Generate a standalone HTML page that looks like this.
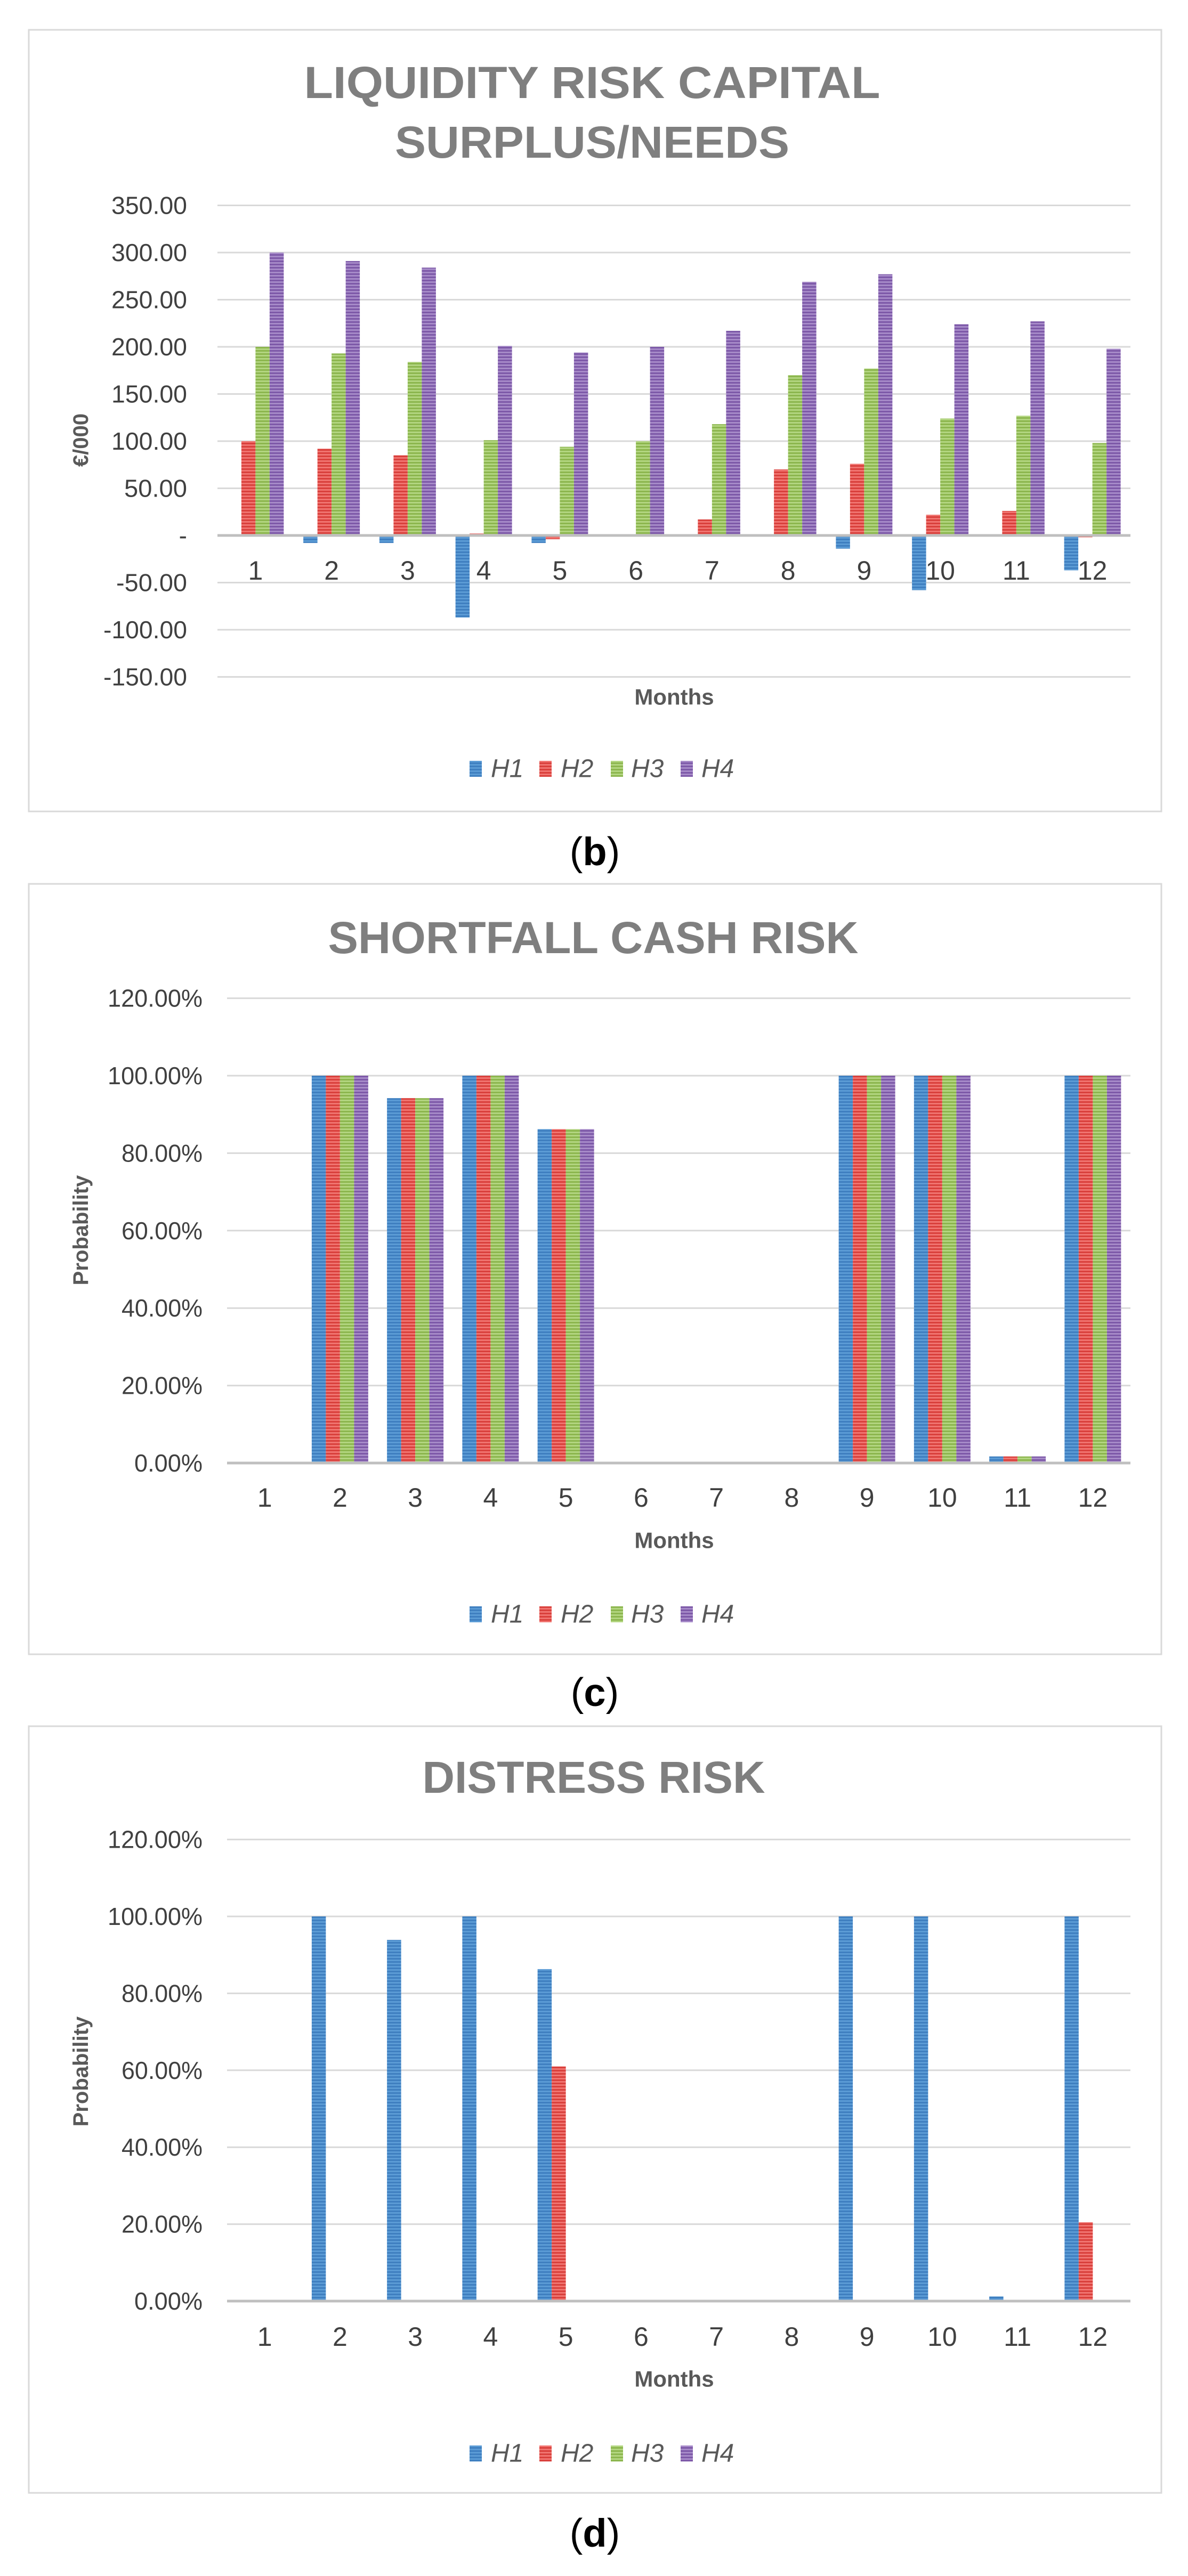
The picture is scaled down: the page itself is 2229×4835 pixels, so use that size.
<!DOCTYPE html>
<html><head><meta charset="utf-8">
<style>
html,body{margin:0;padding:0;background:#fff;}
svg{display:block;}
text{font-family:"Liberation Sans",sans-serif;}
</style></head>
<body>
<svg id="s" width="2229" height="4835" viewBox="0 0 2229 4835" xmlns="http://www.w3.org/2000/svg">
<defs>
<pattern id="p0" width="8" height="6" patternUnits="userSpaceOnUse"><rect width="8" height="6" fill="#5b9bd5"/><rect y="3" width="8" height="3" fill="#3f7fc0"/></pattern>
<pattern id="p1" width="8" height="6" patternUnits="userSpaceOnUse"><rect width="8" height="6" fill="#f07470"/><rect y="3" width="8" height="3" fill="#d9403c"/></pattern>
<pattern id="p2" width="8" height="6" patternUnits="userSpaceOnUse"><rect width="8" height="6" fill="#b2d580"/><rect y="3" width="8" height="3" fill="#8cb64e"/></pattern>
<pattern id="p3" width="8" height="6" patternUnits="userSpaceOnUse"><rect width="8" height="6" fill="#a68ac8"/><rect y="3" width="8" height="3" fill="#7d59a8"/></pattern>
</defs>
<g id="g"></g>
</svg>
<script>
var g=document.getElementById('g'),h='';
function T(x,y,s,o){o=o||{};h+='<text x="'+x+'" y="'+y+'" font-size="'+(o.fs||46)+'" fill="'+(o.c||'#404040')+'" text-anchor="'+(o.a||'middle')+'" dominant-baseline="central"'+(o.w?' font-weight="bold"':'')+(o.i?' font-style="italic"':'')+(o.tl?' textLength="'+o.tl+'" lengthAdjust="spacingAndGlyphs"':'')+(o.r?' transform="rotate(-90 '+x+' '+y+')"':'')+(o.f?' font-family="'+o.f+'"':'')+'>'+s+'</text>';}
function R(x,y,w,hh,f){if(hh<0){y+=hh;hh=-hh;}h+='<rect x="'+x+'" y="'+y+'" width="'+w+'" height="'+hh+'" fill="'+f+'"/>';}
function chart(c){
 h+='<rect x="54" y="'+c.top+'" width="2125" height="'+(c.bot-c.top)+'" fill="#fff" stroke="#d9d9d9" stroke-width="3"/>';
 c.titles.forEach(function(t){T(t[0],t[1],t[2],{fs:84,c:'#7f7f7f',w:1,tl:t[3]});});
 var x0=c.x0,x1=2121;
 c.ticks.forEach(function(t){var y=c.zero-t[0]*c.k;
  h+='<line x1="'+x0+'" x2="'+x1+'" y1="'+y+'" y2="'+y+'" stroke="#d9d9d9" stroke-width="3"/>';
  T(c.tx,y,t[1],{a:'end',fs:46,tl:t[1].length>1?t[2]:null});});
 var sw=(x1-x0)/12,bw=26.5;
 for(var m=0;m<12;m++){var cx=x0+sw*(m+0.5);
  for(var s=0;s<4;s++){var v=c.data[s][m];if(!v)continue;R(cx-2*bw+s*bw,c.zero,bw,-v*c.k,'url(#p'+s+')');}
  T(cx,c.ml,''+(m+1),{fs:50});}
 h+='<line x1="'+x0+'" x2="'+x1+'" y1="'+c.zero+'" y2="'+c.zero+'" stroke="#bfbfbf" stroke-width="5"/>';
 T(152,c.yc,c.yt,{r:1,w:1,fs:40,c:'#595959'});
 T(1265,c.mo,'Months',{w:1,fs:42,c:'#595959'});
 var lx=[[881,921],[1012,1052],[1146,1184],[1277,1316]],cols=['url(#p0)','url(#p1)','url(#p2)','url(#p3)'];
 for(var i=0;i<4;i++){R(lx[i][0],c.lg-15,23,30,cols[i]);T(lx[i][1],c.lg,'H'+(i+1),{a:'start',i:1,fs:48,c:'#595959'});}
 h+='<text x="1116" y="'+c.cap+'" font-size="74" text-anchor="middle" dominant-baseline="central" font-family="Liberation Serif,serif" fill="#000">(<tspan font-weight="bold">'+c.cl+'</tspan>)</text>';
}
var Z=new Array(12).fill(0);
chart({top:56,bot:1523,x0:408,zero:1005,k:1.77,tx:351,
 titles:[[1111,155,'LIQUIDITY RISK CAPITAL',1081],[1111,267,'SURPLUS/NEEDS',740]],
 ticks:[[350,'350.00',142],[300,'300.00',142],[250,'250.00',142],[200,'200.00',142],[150,'150.00',142],[100,'100.00',142],[50,'50.00',118],[0,'-',0],[-50,'-50.00',133],[-100,'-100.00',157],[-150,'-150.00',157]],
 data:[[0,-8,-8,-87,-8,0,0,0,-14,-58,0,-37],[100,92,85,2,-4,0,17,70,76,22,26,-2],[200,193,184,101,94,100,118,170,177,124,127,98],[300,291,284,201,194,200,217,269,277,224,227,198]],
 ml:1071,yc:826,yt:'€/000',mo:1308,lg:1443,cap:1598,cl:'b'});
var c1=[0,100,94.2,100,86.2,0,0,0,100,100,1.7,100];
chart({top:1659,bot:3105,x0:426,zero:2746,k:7.27,tx:380,
 titles:[[1113,1760,'SHORTFALL CASH RISK',995]],
 ticks:[[0,'0.00%',128],[20,'20.00%',152],[40,'40.00%',152],[60,'60.00%',152],[80,'80.00%',152],[100,'100.00%',178],[120,'120.00%',178]],
 data:[c1,c1,c1,c1],ml:2811,yc:2309,yt:'Probability',mo:2891,lg:3030,cap:3176,cl:'c'});
chart({top:3240,bot:4679,x0:426,zero:4319,k:7.22,tx:380,
 titles:[[1114,3336,'DISTRESS RISK',643]],
 ticks:[[0,'0.00%',128],[20,'20.00%',152],[40,'40.00%',152],[60,'60.00%',152],[80,'80.00%',152],[100,'100.00%',178],[120,'120.00%',178]],
 data:[[0,100,93.9,100,86.3,0,0,0,100,100,1.2,100],[0,0,0,0,61,0,0,0,0,0,0,20.5],Z,Z],ml:4386,yc:3888,yt:'Probability',mo:4465,lg:4605,cap:4754,cl:'d'});
g.innerHTML=h;
</script>
</body></html>
